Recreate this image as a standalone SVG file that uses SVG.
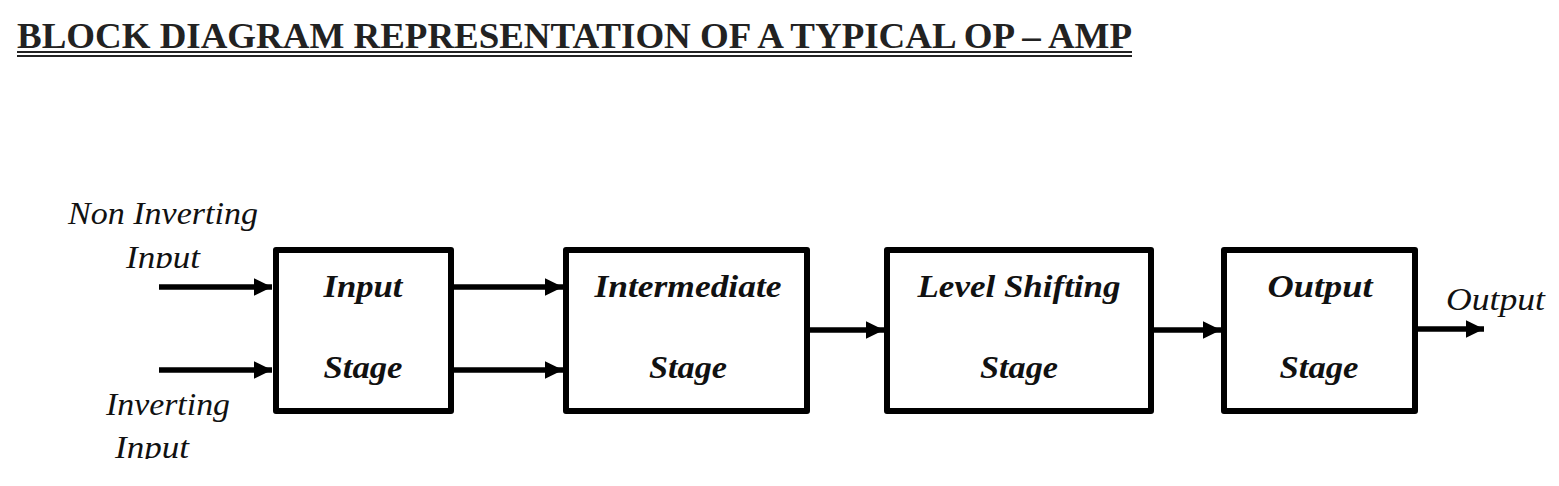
<svg xmlns="http://www.w3.org/2000/svg" width="1559" height="486" viewBox="0 0 1559 486">
<style>
.box{fill:#fff;stroke:#000;stroke-width:6;stroke-linejoin:round}
.con{stroke:#000;stroke-width:5.5;fill:none}
.lbl{font-family:"Liberation Serif","DejaVu Serif",serif;font-style:italic;font-size:31px;fill:#111}
.blk{font-family:"Liberation Serif","DejaVu Serif",serif;font-style:italic;font-weight:bold;font-size:31px;fill:#111;text-anchor:middle}
.ttl{font-family:"Liberation Serif","DejaVu Serif",serif;font-weight:bold;font-size:36px;fill:#222}
</style>
<defs>
<marker id="ah" markerWidth="5" markerHeight="5" refX="3.3" refY="2.5" orient="auto" markerUnits="strokeWidth">
<path d="M0,0.9 L3.3,2.5 L0,4.1 Z" fill="#000"/>
</marker>
<clipPath id="c1"><rect x="0" y="0" width="1559" height="268"/></clipPath>
<clipPath id="c2"><rect x="0" y="0" width="1559" height="459"/></clipPath>
</defs>
<rect width="1559" height="486" fill="#fff"/>
<g id="title">
<text class="ttl" x="17" y="48" textLength="1115" lengthAdjust="spacingAndGlyphs">BLOCK DIAGRAM REPRESENTATION OF A TYPICAL OP – AMP</text>
<rect x="17" y="51" width="1115" height="2" fill="#222"/>
<rect x="17" y="55" width="1115" height="2" fill="#222"/>
</g>
<g id="labels">
<text class="lbl" x="68" y="224" textLength="190" lengthAdjust="spacingAndGlyphs">Non Inverting</text>
<text class="lbl" x="126" y="268" textLength="74" lengthAdjust="spacingAndGlyphs" clip-path="url(#c1)">Input</text>
<text class="lbl" x="106" y="415" textLength="124" lengthAdjust="spacingAndGlyphs">Inverting</text>
<text class="lbl" x="115" y="458" textLength="74" lengthAdjust="spacingAndGlyphs" clip-path="url(#c2)">Input</text>
<text class="lbl" x="1446" y="310" textLength="99" lengthAdjust="spacingAndGlyphs">Output</text>
</g>
<g id="connectors">
<line class="con" x1="159" y1="287" x2="272" y2="287" marker-end="url(#ah)"/>
<line class="con" x1="159" y1="370" x2="272" y2="370" marker-end="url(#ah)"/>
<line class="con" x1="454" y1="287" x2="563" y2="287" marker-end="url(#ah)"/>
<line class="con" x1="454" y1="370" x2="563" y2="370" marker-end="url(#ah)"/>
<line class="con" x1="810" y1="330" x2="884" y2="330" marker-end="url(#ah)"/>
<line class="con" x1="1154" y1="330" x2="1221" y2="330" marker-end="url(#ah)"/>
<line class="con" x1="1418" y1="329" x2="1484" y2="329" marker-end="url(#ah)"/>
</g>
<g id="input-stage">
<rect class="box" x="276" y="250" width="175" height="161"/>
<text class="blk" x="363" y="297" textLength="79" lengthAdjust="spacingAndGlyphs">Input</text>
<text class="blk" x="363" y="378" textLength="79" lengthAdjust="spacingAndGlyphs">Stage</text>
</g>
<g id="intermediate-stage">
<rect class="box" x="566" y="250" width="241" height="161"/>
<text class="blk" x="688" y="297" textLength="187" lengthAdjust="spacingAndGlyphs">Intermediate</text>
<text class="blk" x="688" y="378" textLength="78" lengthAdjust="spacingAndGlyphs">Stage</text>
</g>
<g id="level-shifting-stage">
<rect class="box" x="887" y="250" width="264" height="161"/>
<text class="blk" x="1019" y="297" textLength="203" lengthAdjust="spacingAndGlyphs">Level Shifting</text>
<text class="blk" x="1019" y="378" textLength="78" lengthAdjust="spacingAndGlyphs">Stage</text>
</g>
<g id="output-stage">
<rect class="box" x="1224" y="250" width="191" height="161"/>
<text class="blk" x="1320" y="297" textLength="105" lengthAdjust="spacingAndGlyphs">Output</text>
<text class="blk" x="1319" y="378" textLength="79" lengthAdjust="spacingAndGlyphs">Stage</text>
</g>
</svg>
